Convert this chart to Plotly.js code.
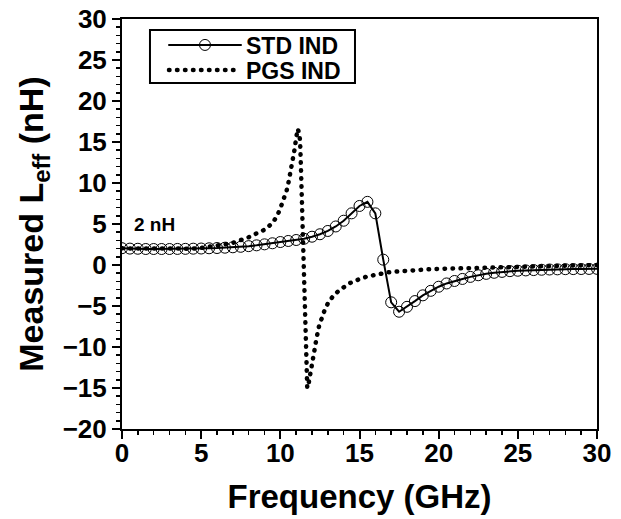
<!DOCTYPE html>
<html>
<head>
<meta charset="utf-8">
<script src="https://cdn.plot.ly/plotly-3.0.1.min.js"></script>
<style>
body { margin: 0; padding: 0; background: #fff; }
#chart { width: 621px; height: 519px; }
.js-line { stroke-linecap: round; }
</style>
</head>
<body>
<div id="chart"></div>
<script>
// STD IND: measured every 0.5 GHz
const stdFreq = [0,0.5,1,1.5,2,2.5,3,3.5,4,4.5,5,5.5,6,6.5,7,7.5,8,8.5,9,9.5,10,10.5,11,11.5,12,12.5,13,13.5,14,14.5,15,15.5,16,16.5,17,17.5,18,18.5,19,19.5,20,20.5,21,21.5,22,22.5,23,23.5,24,24.5,25,25.5,26,26.5,27,27.5,28,28.5,29,29.5,30];
const stdL = [2.05,2.0,1.98,1.95,1.95,1.95,1.95,1.96,1.97,1.99,2.01,2.04,2.07,2.11,2.16,2.22,2.3,2.4,2.52,2.65,2.8,2.93,3.05,3.2,3.45,3.75,4.15,4.7,5.4,6.3,7.2,7.7,6.3,0.65,-4.55,-5.7,-5.1,-4.4,-3.7,-3.15,-2.65,-2.25,-1.95,-1.7,-1.45,-1.25,-1.08,-0.95,-0.84,-0.75,-0.7,-0.66,-0.62,-0.58,-0.55,-0.53,-0.51,-0.5,-0.49,-0.48,-0.47];

// PGS IND
const pgsFreq = [0,1,2,3,4,4.5,5,5.5,6,6.5,7,7.5,8,8.5,9,9.5,9.8,10,10.2,10.4,10.5,10.6,10.7,10.8,10.9,11.0,11.1,11.2,11.25,11.3,11.35,11.4,11.45,11.5,11.55,11.6,11.65,11.7,11.8,11.9,12.0,12.1,12.2,12.3,12.45,12.6,12.8,13,13.4,13.9,14.4,14.9,15.4,16,16.8,17.5,18.3,19.4,20.5,21.8,23,24,25,26,27,28,29,30];
const pgsL = [2.03,2.0,1.97,1.97,1.98,1.99,2.08,2.2,2.4,2.53,2.7,3.0,3.38,3.85,4.3,5.1,6.0,6.9,7.9,9.1,9.9,10.8,11.8,12.9,14.1,15.5,16.6,16.0,15.0,12.0,9.0,5.0,2.0,-2.0,-6.0,-10.0,-13.0,-15.0,-14.3,-13.1,-12.1,-10.8,-9.8,-8.8,-7.4,-6.4,-5.5,-4.7,-3.6,-2.85,-2.2,-1.8,-1.45,-1.2,-0.9,-0.78,-0.62,-0.52,-0.45,-0.38,-0.28,-0.2,-0.14,-0.1,-0.07,-0.04,-0.02,0];

const seriesNames = ['STD IND', 'PGS IND'];
const xTitle = 'Frequency (GHz)';
const yTitle = 'Measured L<sub>eff</sub> (nH)';
const noteText = '2 nH';

const FONT = 'Liberation Sans, Arial, sans-serif';

const traces = [
  {
    x: stdFreq, y: stdL, name: seriesNames[0], type: 'scatter', mode: 'lines+markers',
    line: {color: '#000', width: 2},
    marker: {symbol: 'circle-open', size: 11, color: '#000', line: {width: 1, color: '#000'}},
    legend: 'legend'
  },
  {
    x: pgsFreq, y: pgsL, name: seriesNames[1], type: 'scatter', mode: 'lines',
    line: {color: '#000', width: 4.5, dash: '0.5px,7.5px'},
    legend: 'legend2'
  }
];

const axisCommon = {
  showline: true, linecolor: '#000', linewidth: 2, mirror: true,
  ticks: 'outside', ticklen: 8, tickwidth: 2, tickcolor: '#000',
  showgrid: false, zeroline: false,
  tickfont: {family: FONT, size: 26, color: '#000', weight: 'bold'},
  minor: {dtick: 1, ticks: 'outside', ticklen: 4, tickwidth: 1.5, tickcolor: '#000', showgrid: false}
};

const legendCommon = {
  xanchor: 'left', yanchor: 'middle',
  bgcolor: 'rgba(0,0,0,0)', borderwidth: 0,
  font: {family: FONT, size: 23, color: '#000', weight: 'bold'},
  itemwidth: 72
};

const layout = {
  width: 621, height: 519,
  margin: {l: 122, r: 24, t: 19, b: 90},
  paper_bgcolor: '#fff', plot_bgcolor: '#fff',
  showlegend: true,
  legend: Object.assign({}, legendCommon, {x: 0.0884, y: 0.9366}),
  legend2: Object.assign({}, legendCommon, {x: 0.0884, y: 0.8756}),
  shapes: [{
    type: 'rect', xref: 'x domain', yref: 'y domain',
    x0: 0.0589, x1: 0.4905, y0: 0.8439, y1: 0.973,
    line: {color: '#000', width: 2}, fillcolor: 'rgba(0,0,0,0)', layer: 'above'
  }],
  xaxis: Object.assign({}, axisCommon, {
    range: [0, 30], dtick: 5, tick0: 0, ticklabelstandoff: -8,
    title: {text: xTitle, font: {family: FONT, size: 33, color: '#000', weight: 'bold'}, standoff: 18}
  }),
  yaxis: Object.assign({}, axisCommon, {
    range: [-20, 30], dtick: 5, tick0: 0,
    title: {text: yTitle, font: {family: FONT, size: 34, color: '#000', weight: 'bold'}, standoff: 9}
  }),
  annotations: [{
    x: 0.65, y: 5.0, xref: 'x', yref: 'y', xanchor: 'left', yanchor: 'middle',
    text: noteText, showarrow: false,
    font: {family: FONT, size: 19, color: '#000', weight: 'bold'}
  }]
};

Plotly.newPlot('chart', traces, layout, {displayModeBar: false, staticPlot: true});
</script>
</body>
</html>
